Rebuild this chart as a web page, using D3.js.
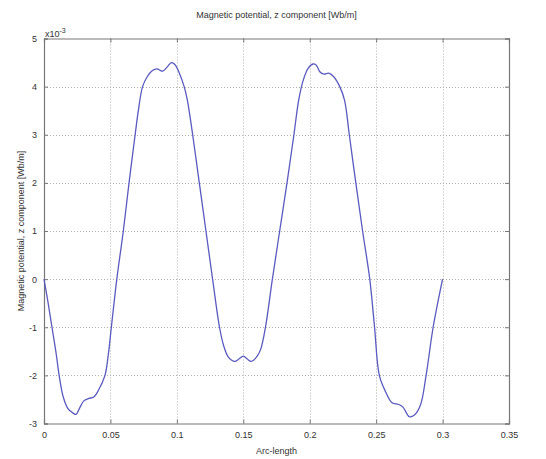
<!DOCTYPE html>
<html>
<head>
<meta charset="utf-8">
<script src="https://cdn.jsdelivr.net/npm/d3@7"></script>
<style>
  html, body { margin: 0; padding: 0; background: #fff; }
  svg { display: block; }
  text { font-family: "Liberation Sans", Arial, sans-serif; fill: #333; }
</style>
</head>
<body>
<svg id="chart" width="546" height="459"></svg>
<script>
// Arc-length (m)
const arcLength = [
  0, 0.003, 0.006, 0.009, 0.0114, 0.0145, 0.018, 0.0217, 0.0242, 0.0266,
  0.030, 0.0338, 0.0374, 0.041, 0.0459, 0.0483, 0.0507, 0.0548, 0.0597, 0.064,
  0.0686, 0.071, 0.0742, 0.0778, 0.0814, 0.085, 0.0891, 0.0928, 0.0959, 0.0985,
  0.1019, 0.1055, 0.1079, 0.1119, 0.1169, 0.1219, 0.1269, 0.1321, 0.1352, 0.1388,
  0.1436, 0.1467, 0.15, 0.153, 0.156, 0.1605, 0.1632, 0.1667, 0.1719, 0.1774,
  0.1829, 0.1881, 0.1917, 0.1952, 0.1988, 0.2024, 0.2048, 0.2076, 0.2107, 0.2143,
  0.2179, 0.2226, 0.2262, 0.2298, 0.2347, 0.2398, 0.2452, 0.2488, 0.2524, 0.2571,
  0.2619, 0.2667, 0.2702, 0.275, 0.2786, 0.2833, 0.2876, 0.2929, 0.3
];
// Magnetic potential, z component (x10^-3 Wb/m)
const potential = [
  0, -0.48, -1.0, -1.52, -2.0, -2.45, -2.69, -2.78, -2.81, -2.69,
  -2.53, -2.48, -2.45, -2.31, -2.0, -1.59, -1.0, 0, 1.0, 2.0,
  3.0, 3.5, 4.0, 4.21, 4.33, 4.37, 4.32, 4.41, 4.50, 4.46,
  4.28, 4.0, 3.72, 3.0, 2.0, 1.0, 0, -1.0, -1.38, -1.62,
  -1.71, -1.66, -1.6, -1.66, -1.71, -1.6, -1.45, -1.0, 0, 1.0,
  2.0, 3.0, 3.72, 4.14, 4.38, 4.47, 4.45, 4.31, 4.26, 4.28,
  4.21, 4.0, 3.72, 3.0, 2.0, 1.0, 0, -1.0, -2.0, -2.34,
  -2.57, -2.6, -2.66, -2.86, -2.83, -2.62, -2.0, -1.0, 0
];
const xTicks = [0, 0.05, 0.1, 0.15, 0.2, 0.25, 0.3, 0.35];
const yTicks = [-3, -2, -1, 0, 1, 2, 3, 4, 5];
const titleText = "Magnetic potential, z component [Wb/m]";
const xLabel = "Arc-length";
const yLabel = "Magnetic potential, z component [Wb/m]";

const svg = d3.select("#chart");
const L = 44, R = 509, T = 38.5, B = 423.5;
const x = d3.scaleLinear().domain([0, 0.35]).range([L, R]);
const y = d3.scaleLinear().domain([-3, 5]).range([B, T]);

svg.append("rect").attr("x", 0).attr("y", 0).attr("width", 546).attr("height", 459).attr("fill", "#fff");

// grid
const grid = svg.append("g");
grid.selectAll("line.vx").data(xTicks.slice(1, -1)).join("line")
  .attr("x1", d => Math.round(x(d)) + 0.5).attr("x2", d => Math.round(x(d)) + 0.5)
  .attr("y1", T).attr("y2", B)
  .attr("stroke", "#b0b0b0").attr("stroke-width", 1).attr("stroke-dasharray", "1,2");
grid.selectAll("line.hy").data(yTicks.slice(1, -1)).join("line")
  .attr("y1", d => Math.round(y(d)) + 0.5).attr("y2", d => Math.round(y(d)) + 0.5)
  .attr("x1", L).attr("x2", R)
  .attr("stroke", "#b0b0b0").attr("stroke-width", 1).attr("stroke-dasharray", "1,2");

// axes with inward ticks
const tickLen = 4;
const axB = d3.axisBottom(x).tickValues(xTicks).tickSize(-tickLen).tickPadding(8).tickFormat(d => d3.format("")(d));
const axT = d3.axisTop(x).tickValues(xTicks).tickSize(-tickLen).tickFormat("");
const axL = d3.axisLeft(y).tickValues(yTicks).tickSize(-tickLen).tickPadding(7).tickFormat(d => d);
const axR = d3.axisRight(y).tickValues(yTicks).tickSize(-tickLen).tickFormat("");

function styleAxis(g) {
  g.select(".domain").attr("stroke", "#777").attr("stroke-width", 1.2);
  g.selectAll(".tick line").attr("stroke", "#777");
  g.selectAll("text").attr("font-size", 9).attr("font-family", "Liberation Sans, Arial, sans-serif").attr("fill", "#333");
}
svg.append("g").attr("transform", `translate(0,${B})`).call(axB).call(styleAxis);
svg.append("g").attr("transform", `translate(0,${T})`).call(axT).call(styleAxis);
svg.append("g").attr("transform", `translate(${L},0)`).call(axL).call(styleAxis);
svg.append("g").attr("transform", `translate(${R},0)`).call(axR).call(styleAxis);

// curve
const pts = arcLength.map((a, i) => [a, potential[i]]);
svg.append("path")
  .datum(pts)
  .attr("fill", "none")
  .attr("stroke", "#5a5ac0")
  .attr("stroke-width", 1.3)
  .attr("d", d3.line().x(d => x(d[0])).y(d => y(d[1])).curve(d3.curveCatmullRom.alpha(0.5)));

// exponent
const ex = svg.append("text").attr("x", L + 1).attr("y", T - 2).attr("font-size", 9);
ex.append("tspan").text("x10");
ex.append("tspan").attr("dy", -4).attr("font-size", 7).text("-3");

// titles
svg.append("text").attr("x", (L + R) / 2).attr("y", 18).attr("text-anchor", "middle").attr("font-size", 9).text(titleText);
svg.append("text").attr("x", (L + R) / 2).attr("y", 454).attr("text-anchor", "middle").attr("font-size", 9).text(xLabel);
svg.append("text").attr("transform", `translate(24,${(T + B) / 2}) rotate(-90)`).attr("text-anchor", "middle").attr("font-size", 9).text(yLabel);
</script>
</body>
</html>
